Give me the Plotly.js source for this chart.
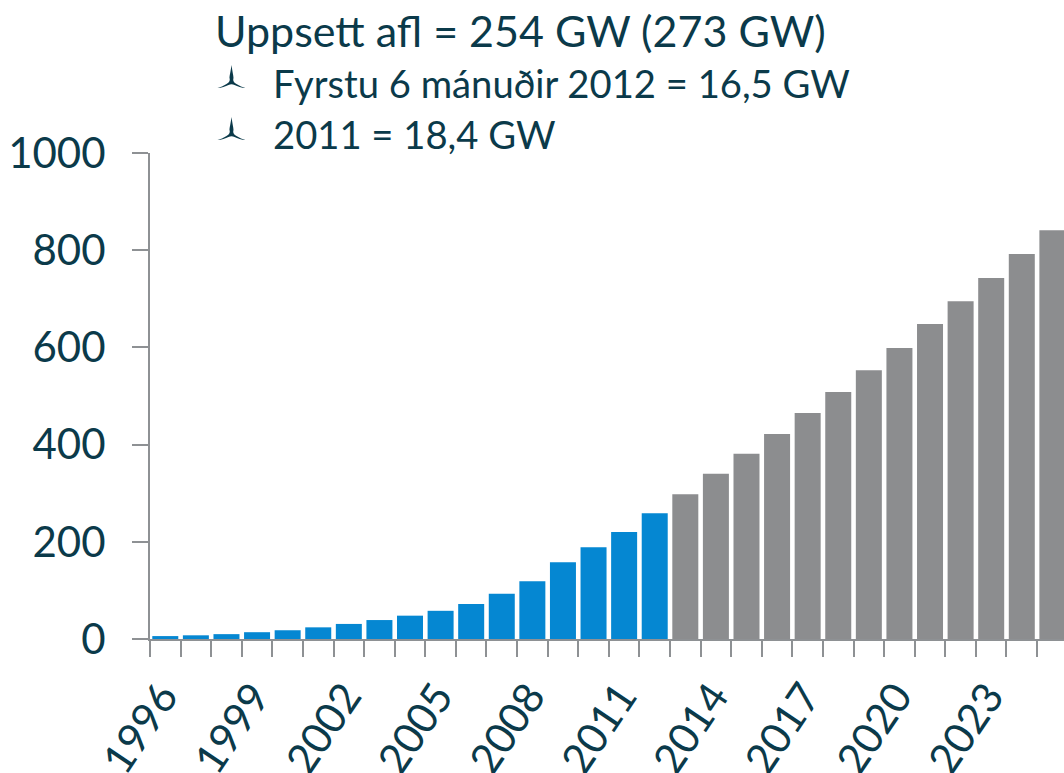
<!DOCTYPE html>
<html>
<head>
<meta charset="utf-8">
<script src="https://cdn.plot.ly/plotly-3.0.1.min.js"></script>
<style>html,body{margin:0;padding:0;background:#fff;overflow:hidden}#chart{width:1064px;height:773px}</style>
</head>
<body>
<div id="chart"></div>
<script>
const installedYears = [1996,1997,1998,1999,2000,2001,2002,2003,2004,2005,2006,2007,2008,2009,2010,2011,2012];
const installedValues = [6,7.6,10,14,18,24,31,39,48,58,72,93,119,158,189,220,259];
const forecastYears = [2013,2014,2015,2016,2017,2018,2019,2020,2021,2022,2023,2024,2025];
const forecastValues = [298,340,381,422,465,508,553,599,648,695,743,792,841];
const yTicks = [0,200,400,600,800,1000];
const xLabelYears = [1996,1999,2002,2005,2008,2011,2014,2017,2020,2023];
const headline = "Uppsett afl = 254 GW (273 GW)";
const bulletLines = ["Fyrstu 6 mánuðir 2012 = 16,5 GW","2011 = 18,4 GW"];

const ink = "#0b3a4a", axisGrey = "#8e9194", font = "Lato, Carlito, sans-serif";
const bladePath = "M 0 16 C -1 9 -2 5 -2 3 C -1 0 -3 -2 -5 -3 C -8 -5 -11 -6 -14 -7 C -10 -7 -6 -5 -3 -4 C -1 -3 1 -3 3 -4 C 6 -5 10 -7 14 -7 C 11 -6 8 -5 5 -3 C 3 -2 1 0 2 3 C 2 5 1 9 0 16 Z";
const icon = py => ({type:"path", xref:"paper", yref:"paper", xsizemode:"pixel", ysizemode:"pixel",
  xanchor:(231.5-150)/914, yanchor:(639-py)/486, path:bladePath, fillcolor:ink, line:{width:0}});
const label = (text,x,y,size) => ({xref:"paper",yref:"paper",x:(x-150)/914,y:(639-y)/486,text,showarrow:false,
  xanchor:"left",yanchor:"middle",font:{family:font,size,color:ink}});

Plotly.newPlot("chart",[
  {type:"bar",x:installedYears,y:installedValues,width:0.85,marker:{color:"#0587d2"},hoverinfo:"x+y"},
  {type:"bar",x:forecastYears,y:forecastValues,width:0.85,marker:{color:"#8c8d8f"},hoverinfo:"x+y"}
],{
  width:1064,height:773,margin:{l:150,r:0,t:153,b:134},
  paper_bgcolor:"#fff",plot_bgcolor:"#fff",showlegend:false,barmode:"overlay",
  xaxis:{type:"linear",range:[1995.5,2025.38],tickmode:"array",tickvals:xLabelYears,ticktext:xLabelYears.map(String),
    ticks:"",tickangle:-56,ticklabelstandoff:14,ticklabelshift:-3,tickfont:{family:font,size:42,color:ink},
    showgrid:false,zeroline:false,showline:true,linecolor:axisGrey,linewidth:2,
    minor:{tick0:1995.5,dtick:1,ticks:"outside",ticklen:16,tickwidth:2,tickcolor:axisGrey,showgrid:false}},
  yaxis:{range:[0,1000],tickmode:"array",tickvals:yTicks,ticks:"outside",ticklen:16,tickwidth:2,tickcolor:axisGrey,
    ticklabelstandoff:18,showgrid:false,zeroline:false,showline:true,linecolor:axisGrey,linewidth:2,tickfont:{family:font,size:42,color:ink}},
  annotations:[label(headline,213,30,43),label(bulletLines[0],271,83,38.2),label(bulletLines[1],271,134,38.2)],
  shapes:[icon(81),icon(133)]
},{displayModeBar:false,staticPlot:true});
</script>
</body>
</html>
